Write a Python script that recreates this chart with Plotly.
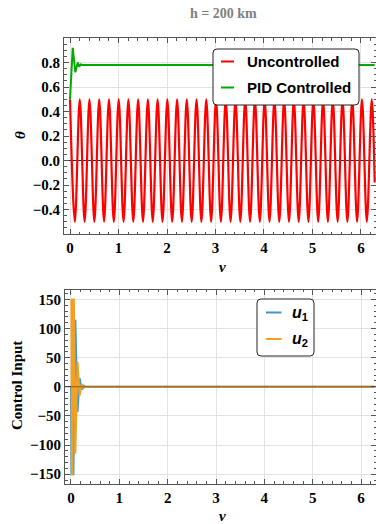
import plotly.graph_objects as go

W, H = 376, 524

# ---------------- data ----------------
# Uncontrolled theta: times of the peaks (+0.5) and troughs (-0.5)
red_peak_nu = [0.000, 0.201, 0.401, 0.602, 0.803, 1.004, 1.204, 1.405, 1.606, 1.806,
               2.007, 2.208, 2.408, 2.609, 2.810, 3.011, 3.211, 3.412, 3.613, 3.813,
               4.014, 4.215, 4.415, 4.616, 4.817, 5.018, 5.218, 5.419, 5.620, 5.820,
               6.021, 6.222]
red_trough_nu = [0.100, 0.301, 0.502, 0.702, 0.903, 1.104, 1.305, 1.505, 1.706, 1.907,
                 2.107, 2.308, 2.509, 2.709, 2.910, 3.111, 3.311, 3.512, 3.713, 3.914,
                 4.114, 4.315, 4.516, 4.716, 4.917, 5.118, 5.318, 5.519, 5.720, 5.920,
                 6.121]
red_peak_val = 0.5
red_trough_val = -0.5
red_end_nu, red_end_val = 6.283, -0.18

# PID controlled theta
pid_nu = [0.0, 0.056, 0.11, 0.16, 0.19, 0.22, 0.26, 6.283]
pid_theta = [0.5, 0.92, 0.72, 0.80, 0.765, 0.785, 0.78, 0.78]

# Control inputs
u1_nu = [0.0, 0.010, 0.050, 0.090, 0.135, 0.180, 0.220, 0.260, 0.300, 6.283]
u1_val = [0, -150, -150, 115, -43, 15, -5, 2, 0, 0]
u2_nu = [0.0, 0.010, 0.020, 0.030, 0.045, 0.060, 0.090, 0.135, 0.180, 0.220, 0.260, 0.300, 6.283]
u2_val = [150, 150, -150, -150, 150, 150, -115, 43, -15, 5, -2, 0, 0]

title_text = "h = 200 km"
top_ticks = [-0.4, -0.2, 0.0, 0.2, 0.4, 0.6, 0.8]
bot_ticks = [-150, -100, -50, 0, 50, 100, 150]
x_ticks = [0, 1, 2, 3, 4, 5, 6]

# ---------------- build red polyline table ----------------
pts = sorted([(t, red_peak_val) for t in red_peak_nu] + [(t, red_trough_val) for t in red_trough_nu])
pts.append((red_end_nu, red_end_val))
red_nu = [p[0] for p in pts]
red_theta = [p[1] for p in pts]

RED = "#FF0000"
GREEN = "#00AA00"
BLUE = "#3D99CC"
ORANGE = "#F2A024"

fig = go.Figure()
fig.add_trace(go.Scatter(x=red_nu, y=red_theta, mode="lines", line=dict(color=RED, width=2.2, shape="spline", smoothing=1.0),
                         xaxis="x", yaxis="y", showlegend=False))
fig.add_trace(go.Scatter(x=pid_nu, y=pid_theta, mode="lines", line=dict(color=GREEN, width=2),
                         xaxis="x", yaxis="y", showlegend=False))
fig.add_trace(go.Scatter(x=u1_nu, y=u1_val, mode="lines", line=dict(color=BLUE, width=2),
                         xaxis="x2", yaxis="y2", showlegend=False))
fig.add_trace(go.Scatter(x=u2_nu, y=u2_val, mode="lines", line=dict(color=ORANGE, width=2),
                         xaxis="x2", yaxis="y2", showlegend=False))

def px_x(x):
    return x / W

def px_y(y):
    return 1 - y / H

FRAME = "#555555"
GRID = "#e3e3e3"
tickfont = dict(family="Liberation Serif", size=15, color="black", weight="bold")

def xaxis(domain, anchor):
    return dict(domain=domain, anchor=anchor, range=[-0.124, 6.31], tickvals=x_ticks,
                ticks="inside", ticklen=5, tickcolor=FRAME, showline=True, linecolor=FRAME, linewidth=1,
                mirror="allticks", showgrid=True, gridcolor=GRID, zeroline=False,
                minor=dict(dtick=0.2, ticks="inside", ticklen=2.5, tickcolor=FRAME, showgrid=False),
                tickfont=tickfont)

def yaxis(domain, anchor, rng, ticks, fmt, minor):
    return dict(domain=domain, anchor=anchor, range=rng, tickvals=ticks, tickformat=fmt,
                ticks="inside", ticklen=5, tickcolor=FRAME, showline=True, linecolor=FRAME, linewidth=1,
                mirror="allticks", showgrid=True, gridcolor=GRID,
                zeroline=True, zerolinecolor="#333333", zerolinewidth=1,
                minor=dict(dtick=minor, ticks="inside", ticklen=2.5, tickcolor=FRAME, showgrid=False),
                tickfont=tickfont)

fig.update_layout(
    width=W, height=H, margin=dict(l=0, r=0, t=0, b=0),
    paper_bgcolor="white", plot_bgcolor="white",
    xaxis=xaxis([px_x(64), 1.0], "y"),
    yaxis=yaxis([px_y(234), px_y(38)], "x", [-0.6, 1.0], top_ticks, ".1f", 0.05),
    xaxis2=xaxis([px_x(65), 1.0], "y2"),
    yaxis2=yaxis([px_y(483.5), px_y(289.5)], "x2", [-166, 167], bot_ticks, "d", 10),
)

ann = []
serif = "Liberation Serif"
ann.append(dict(text="<b>" + title_text + "</b>", x=px_x(223), y=px_y(13), xref="paper", yref="paper",
                showarrow=False, xanchor="center", yanchor="middle",
                font=dict(family=serif, size=14, color="#808080")))
ann.append(dict(text="<b><i>θ</i></b>", x=px_x(20), y=px_y(135), xref="paper", yref="paper", textangle=-90,
                showarrow=False, xanchor="center", yanchor="middle", font=dict(family=serif, size=15, color="black")))
ann.append(dict(text="<b><i>ν</i></b>", x=px_x(222), y=px_y(267), xref="paper", yref="paper",
                showarrow=False, xanchor="center", yanchor="middle", font=dict(family=serif, size=15, color="black")))
ann.append(dict(text="<b>Control Input</b>", x=px_x(17), y=px_y(386), xref="paper", yref="paper", textangle=-90,
                showarrow=False, xanchor="center", yanchor="middle", font=dict(family=serif, size=15, color="black")))
ann.append(dict(text="<b><i>ν</i></b>", x=px_x(222), y=px_y(516), xref="paper", yref="paper",
                showarrow=False, xanchor="center", yanchor="middle", font=dict(family=serif, size=15, color="black")))

shapes = []

def rounded_box(x0, y0, x1, y1, r=4):
    X0, X1 = px_x(x0), px_x(x1)
    Y0, Y1 = px_y(y0), px_y(y1)  # Y0 top, Y1 bottom
    rx, ry = r / W, r / H
    p = (f"M {X0+rx},{Y0} L {X1-rx},{Y0} Q {X1},{Y0} {X1},{Y0-ry} "
         f"L {X1},{Y1+ry} Q {X1},{Y1} {X1-rx},{Y1} L {X0+rx},{Y1} Q {X0},{Y1} {X0},{Y1+ry} "
         f"L {X0},{Y0-ry} Q {X0},{Y0} {X0+rx},{Y0} Z")
    return dict(type="path", path=p, xref="paper", yref="paper", fillcolor="white",
                line=dict(color="#222222", width=1), layer="above")

def legend_line(x0, x1, y, color):
    return dict(type="line", xref="paper", yref="paper", x0=px_x(x0), x1=px_x(x1), y0=px_y(y), y1=px_y(y),
                line=dict(color=color, width=2), layer="above")

# dark axis line at zero drawn over the control-input traces
shapes.append(dict(type="line", xref="x2 domain", yref="y2", x0=0, x1=1, y0=0, y1=0,
                   line=dict(color="#333333", width=1), opacity=0.6, layer="above"))

sans = "Liberation Sans"
# top legend
shapes.append(rounded_box(213, 49, 359, 105))
shapes.append(legend_line(221, 234, 61.5, RED))
shapes.append(legend_line(221, 234, 87.5, GREEN))
ann.append(dict(text="<b>Uncontrolled</b>", x=px_x(245), y=px_y(61.5), xref="paper", yref="paper",
                showarrow=False, xanchor="left", yanchor="middle", font=dict(family=sans, size=15, color="black")))
ann.append(dict(text="<b>PID Controlled</b>", x=px_x(245), y=px_y(87.5), xref="paper", yref="paper",
                showarrow=False, xanchor="left", yanchor="middle", font=dict(family=sans, size=15, color="black")))
# bottom legend
shapes.append(rounded_box(257, 299, 314, 356))
shapes.append(legend_line(266, 281.5, 312.5, BLUE))
shapes.append(legend_line(266, 281.5, 339, ORANGE))
ann.append(dict(text="<b><i>u</i><sub>1</sub></b>", x=px_x(290), y=px_y(313), xref="paper", yref="paper",
                showarrow=False, xanchor="left", yanchor="middle", font=dict(family=sans, size=16, color="black")))
ann.append(dict(text="<b><i>u</i><sub>2</sub></b>", x=px_x(290), y=px_y(339.5), xref="paper", yref="paper",
                showarrow=False, xanchor="left", yanchor="middle", font=dict(family=sans, size=16, color="black")))

fig.update_layout(annotations=ann, shapes=shapes)
fig.write_html("out.html", config={"displayModeBar": False},
               post_script="document.body.style.margin='0';document.body.style.overflow='hidden';")
